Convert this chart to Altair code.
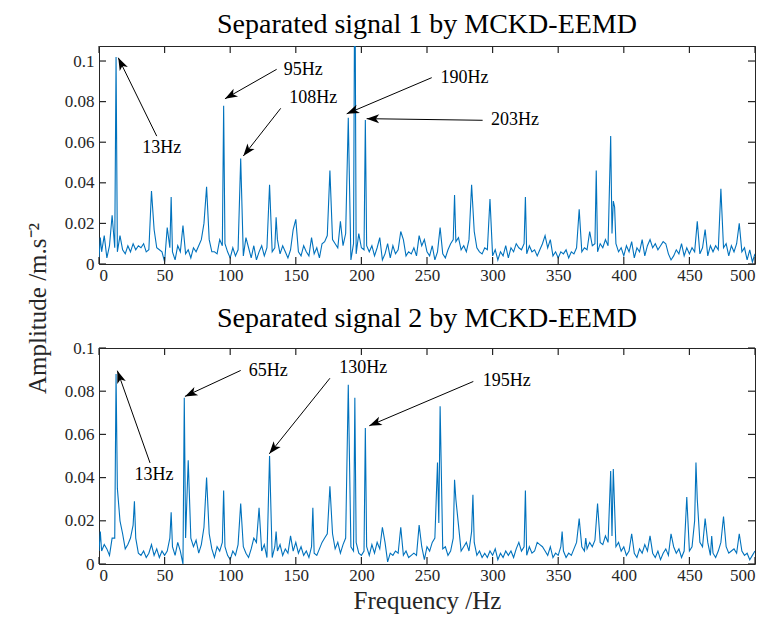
import math
import altair as alt
import pandas as pd

# ---------------- data (amplitudes in 1e-3 m/s^2) ----------------
base_freq_step = 2  # baseline sampled at 0,2,...,500 Hz

top_base = (
    [3, 6, 14, 3, 9, 24, 8, 6, 14, 7, 5, 9, 6, 10, 7, 9, 8, 10, 6, 7, 36, 17, 8, 7, 6]
    + [1, 18, 8, 6, 2, 9, 6, 19, 5, 7, 3, 8, 6, 9, 12, 20, 38, 12, 6, 6, 5, 12, 9, 10, 6]
    + [3, 8, 4, 7, 52, 4, 13, 8, 3, 9, 2, 6, 9, 4, 8, 39, 6, 8, 12, 5, 9, 6, 3, 7, 17]
    + [22, 6, 4, 9, 6, 4, 13, 5, 8, 3, 10, 11, 14, 46, 12, 10, 8, 21, 9, 15, 72, 2, 10, 5, 15]
    + [8, 7, 9, 6, 9, 4, 8, 13, 2, 5, 10, 3, 9, 5, 7, 16, 12, 4, 6, 5, 8, 4, 14, 9, 12]
    + [6, 4, 9, 2, 6, 18, 5, 3, 7, 10, 12, 11, 13, 7, 9, 6, 12, 39, 16, 8, 6, 5, 8, 7, 32]
    + [4, 7, 2, 6, 4, 9, 3, 8, 6, 10, 8, 7, 10, 5, 9, 6, 7, 4, 7, 10, 14, 8, 12, 4, 6]
    + [3, 6, 5, 7, 3, 6, 5, 8, 27, 6, 8, 7, 16, 9, 10, 6, 10, 8, 12, 9, 63, 31, 10, 6, 8]
    + [4, 9, 6, 11, 3, 8, 6, 12, 4, 9, 12, 8, 10, 7, 9, 11, 10, 5, 2, 4, 7, 5, 10, 4, 8]
    + [5, 8, 6, 21, 5, 8, 17, 4, 9, 6, 9, 7, 37, 8, 10, 4, 9, 6, 10, 20, 6, 8, 2, 7, 1]
    + [5]
)
top_extra = {1: 13, 13: 102, 55: 33, 95: 78, 135: 23, 195: 160, 203: 71,
             271: 34, 325: 33, 379: 46, 391: 15, 393: 28}

bot_base = (
    [6, 6, 9, 7, 4, 12, 12, 35, 20, 14, 7, 9, 12, 18, 12, 5, 4, 6, 3, 5, 9, 4, 7, 3, 6]
    + [4, 6, 12, 8, 4, 10, 6, 0, 12, 48, 12, 8, 11, 5, 9, 17, 40, 14, 7, 3, 8, 6, 10, 8, 4]
    + [2, 6, 4, 9, 28, 8, 5, 3, 7, 12, 10, 26, 6, 9, 3, 50, 3, 8, 6, 9, 4, 7, 5, 13, 6]
    + [10, 5, 8, 4, 6, 3, 8, 5, 4, 7, 10, 12, 14, 36, 14, 7, 10, 5, 9, 12, 83, 8, 6, 10, 5]
    + [4, 6, 8, 4, 9, 5, 10, 7, 17, 10, 1, 5, 4, 6, 5, 17, 4, 6, 3, 4, 5, 4, 18, 8, 2]
    + [8, 6, 10, 12, 47, 73, 7, 8, 4, 6, 12, 30, 18, 6, 8, 10, 6, 15, 10, 4, 6, 3, 5, 3, 6]
    + [4, 7, 2, 5, 3, 6, 4, 6, 3, 7, 10, 6, 8, 4, 8, 5, 6, 10, 9, 8, 6, 4, 8, 3, 5]
    + [4, 8, 6, 3, 5, 4, 7, 10, 21, 8, 6, 7, 10, 8, 11, 28, 10, 9, 13, 10, 43, 44, 8, 10, 6]
    + [8, 4, 6, 14, 5, 3, 7, 5, 9, 6, 13, 5, 3, 6, 2, 5, 7, 4, 14, 8, 5, 7, 3, 6, 31]
    + [6, 8, 20, 30, 10, 8, 21, 10, 4, 5, 3, 6, 10, 22, 8, 5, 6, 7, 5, 14, 6, 4, 5, 2, 4]
    + [6]
)
bot_extra = {1: 15, 13: 88, 27: 29, 55: 24, 65: 77, 95: 34, 135: 15, 163: 26,
             195: 77, 203: 63, 259: 19, 271: 39, 285: 32, 325: 34, 353: 15,
             371: 12, 391: 13, 455: 47, 467: 13}

x_ticks = [0, 50, 100, 150, 200, 250, 300, 350, 400, 450, 500]
y_ticks = [0, 0.02, 0.04, 0.06, 0.08, 0.1]

# annotations: label, text position, arrow tail, arrow tip (freq Hz, amplitude)
top_labels = ["13Hz", "95Hz", "108Hz", "190Hz", "203Hz"]
top_text_f = [47.8, 155.7, 163.3, 278.5, 317.0]
top_text_a = [0.0573, 0.0954, 0.0820, 0.0918, 0.0708]
top_tail_f = [44.0, 135.4, 138.5, 253.6, 292.4]
top_tail_a = [0.0630, 0.0959, 0.0767, 0.0918, 0.0708]
top_tip_f = [14.7, 96.0, 110.0, 188.8, 204.0]
top_tip_a = [0.1016, 0.0814, 0.0532, 0.0740, 0.0716]

bot_labels = ["13Hz", "65Hz", "130Hz", "195Hz"]
bot_text_f = [41.9, 129.0, 201.5, 310.7]
bot_text_a = [0.0411, 0.0895, 0.0907, 0.0845]
bot_tail_f = [38.9, 108.0, 176.0, 285.3]
bot_tail_a = [0.0468, 0.0896, 0.0860, 0.0845]
bot_tip_f = [14.0, 65.5, 129.8, 206.0]
bot_tip_a = [0.0895, 0.0776, 0.0510, 0.0640]

# ---------------- styling ----------------
FONT = "Liberation Serif"
W = 656
LINE = "#0072BD"
AX = "#262626"
HEAD = "M0,0L0.9,2.5L0,1.85L-0.9,2.5Z"


def spectrum(base, extra):
    d = {i * base_freq_step: v for i, v in enumerate(base)}
    d.update(extra)
    fs = sorted(d)
    return pd.DataFrame({"f": fs, "a": [d[k] / 1000.0 for k in fs]})


def panel(base, extra, ymax, H, title, labels, tf, ta, lf, la, pf, pa, bottom):
    df = spectrum(base, extra)
    xs = alt.Scale(domain=[0, 500], nice=False, zero=False)
    ys = alt.Scale(domain=[0, ymax], nice=False, zero=True)

    xaxis = alt.Axis(values=x_ticks, labelFont=FONT, labelFontSize=17,
                     labelColor=AX, labelPadding=3, ticks=False, domain=False,
                     grid=False,
                     title="Frequency /Hz" if bottom else None,
                     titleFont=FONT, titleFontSize=25, titleFontWeight="normal",
                     titleColor=AX, titlePadding=5)
    yaxis_kw = dict(values=y_ticks, format="~g", labelFont=FONT, labelFontSize=17,
                    labelColor=AX, labelPadding=5, ticks=False, domain=False,
                    grid=False)
    if not bottom:
        yaxis_kw.update(title="Amplitude /m.s⁻²", titleFont=FONT, titleFontSize=25,
                        titleFontWeight="normal", titleColor=AX, titleAngle=270,
                        titleX=-62, titleY=262, titleAlign="center",
                        titleBaseline="middle")
    else:
        yaxis_kw.update(title=None)
    yaxis = alt.Axis(**yaxis_kw)

    def X(field):
        return alt.X(field, scale=xs, axis=xaxis)

    def Y(field):
        return alt.Y(field, scale=ys, axis=yaxis)

    line = alt.Chart(df).mark_line(color=LINE, strokeWidth=1.1, clip=True).encode(
        x=X("f:Q"), y=Y("a:Q"))

    xt = pd.DataFrame({"f": x_ticks})
    yt = pd.DataFrame({"a": y_ticks})
    tb = alt.Chart(xt).mark_rule(color=AX, strokeWidth=1.2).encode(
        x=X("f:Q"), y=alt.value(H), y2=alt.value(H - 7))
    tt = alt.Chart(xt).mark_rule(color=AX, strokeWidth=1.2).encode(
        x=X("f:Q"), y=alt.value(0), y2=alt.value(7))
    tl = alt.Chart(yt).mark_rule(color=AX, strokeWidth=1.2).encode(
        y=Y("a:Q"), x=alt.value(0), x2=alt.value(7))
    tr = alt.Chart(yt).mark_rule(color=AX, strokeWidth=1.2).encode(
        y=Y("a:Q"), x=alt.value(W - 7), x2=alt.value(W))

    angles = []
    for i in range(len(labels)):
        dx = (pf[i] - lf[i]) * W / 500.0
        dy = -(pa[i] - la[i]) * H / ymax
        angles.append(math.degrees(math.atan2(dx, -dy)) % 360)
    ann = pd.DataFrame({"label": labels, "tf": tf, "ta": ta, "lf": lf, "la": la,
                        "pf": pf, "pa": pa, "ang": angles})
    arrows = alt.Chart(ann).mark_rule(color="black", strokeWidth=1).encode(
        x=X("lf:Q"), y=Y("la:Q"), x2="pf:Q", y2="pa:Q")
    heads = alt.Chart(ann).mark_point(shape=HEAD, filled=True, color="black",
                                      opacity=1, size=100).encode(
        x=X("pf:Q"), y=Y("pa:Q"), angle=alt.Angle("ang:Q", scale=None))
    texts = alt.Chart(ann).mark_text(font=FONT, fontSize=18, color="black",
                                     align="center", baseline="middle").encode(
        x=X("tf:Q"), y=Y("ta:Q"), text="label:N")

    return alt.layer(line, tb, tt, tl, tr, arrows, heads, texts).properties(
        width=W, height=H,
        title=alt.TitleParams(title, font=FONT, fontSize=28, fontWeight="normal",
                              color="black", anchor="middle", offset=6),
    )


top = panel(top_base, top_extra, 0.1074, 218, "Separated signal 1 by MCKD-EEMD",
            top_labels, top_text_f, top_text_a, top_tail_f, top_tail_a,
            top_tip_f, top_tip_a, False)
bot = panel(bot_base, bot_extra, 0.1, 216, "Separated signal 2 by MCKD-EEMD",
            bot_labels, bot_text_f, bot_text_a, bot_tail_f, bot_tail_a,
            bot_tip_f, bot_tip_a, True)

chart = alt.vconcat(top, bot, spacing=84, bounds="flush").properties(
    padding={"left": 16, "top": 2, "right": 0, "bottom": 5},
    background="white",
).configure_view(stroke=AX, strokeWidth=1).configure_axis(
    labelFont=FONT, titleFont=FONT
)

chart.save("out.html", embed_options={"renderer": "svg", "actions": False})
